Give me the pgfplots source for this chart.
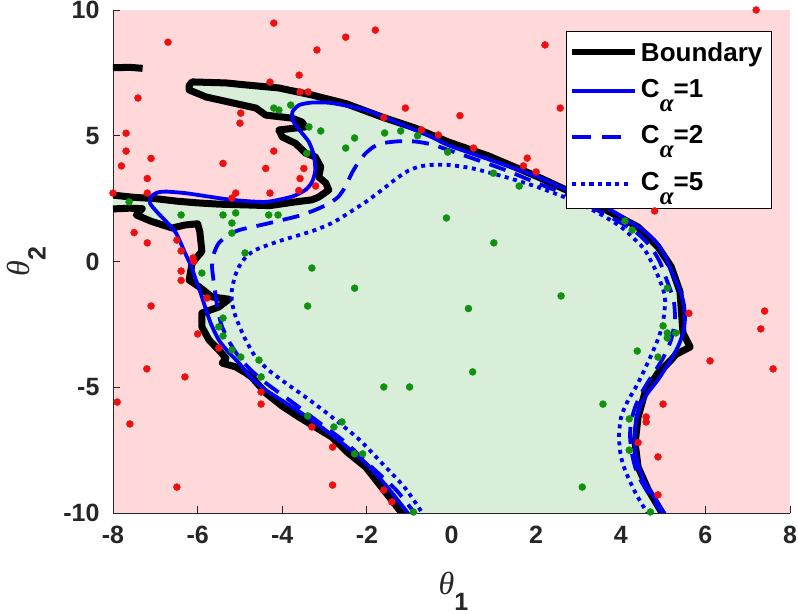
\documentclass[border=0pt]{standalone}
\usepackage{pgfplots}
\pgfplotsset{compat=1.18}
\usepackage{fontspec}
\setmainfont{Liberation Sans}
\newfontfamily\tms{Liberation Serif}
\definecolor{pinkbg}{RGB}{255,217,217}
\definecolor{greenbg}{RGB}{216,238,216}
\definecolor{reddot}{RGB}{238,16,16}
\definecolor{greendot}{RGB}{16,145,16}
\definecolor{axgray}{RGB}{38,38,38}
\definecolor{cblue}{RGB}{0,0,245}
\newcommand{\Ca}[1]{C\lower14pt\hbox{\fontsize{25}{25}\selectfont\tms\itshape α}=#1}
\newcommand{\dotseg}{\rule[4.75pt]{4.5pt}{3.5pt}\hspace{4.1pt}}
\begin{document}
\begin{tikzpicture}
\begin{axis}[
 scale only axis, width=677pt, height=503pt,
 xmin=-8, xmax=8, ymin=-10, ymax=10,
 axis background/.style={fill=pinkbg},
 axis x line*=bottom, axis y line*=left,
 axis line style={axgray, line width=0.8pt, -},
 tick align=inside, major tick length=7pt,
 tick style={axgray, line width=0.8pt},
 xtick={-8,-6,-4,-2,0,2,4,6,8}, xticklabels={-8,-6,-4,-2,0,2,4,6,8},
 ytick={-10,-5,0,5,10}, yticklabels={-10,-5,0,5,10},
 ticklabel style={font=\fontsize{25}{25}\selectfont\bfseries, text=axgray},
 xticklabel style={yshift=-10pt}, yticklabel style={xshift=-10pt},
 xlabel={{\fontsize{32}{32}\selectfont\tms\itshape θ}\lower16pt\hbox{\fontsize{25}{25}\selectfont\bfseries 1}},
 ylabel={{\fontsize{32}{32}\selectfont\tms\itshape θ}\lower16pt\hbox{\fontsize{25}{25}\selectfont\bfseries 2}},
 xlabel style={at={(axis description cs:0.503,-0.155)}, anchor=center, text=axgray},
 ylabel style={at={(axis description cs:-0.128,0.5)}, anchor=center, text=axgray},
 clip=true,
]
% green region
\addplot[fill=greenbg, draw=none] coordinates {
(-8,2.64) (-7.5,2.55) (-7.0,2.5) (-6.5,2.4) (-6.0,2.33) (-5.5,2.28) (-4.86,2.25) (-4.3,2.22) (-3.69,2.37) (-3.3,2.45) (-3.14,2.56) (-2.9,2.84) (-2.97,3.12) (-3.14,3.36) (-3.09,3.76) (-3.22,4.16) (-3.45,4.31) (-3.69,4.7) (-4.0,4.95) (-4.08,5.23) (-3.45,5.35) (-3.54,5.55) (-3.77,5.7) (-4.39,5.82) (-4.62,6.1) (-5.26,6.34) (-5.8,6.54) (-6.2,6.82) (-6.2,7.0) (-6.13,7.14) (-5.33,7.1) (-4.86,7.02) (-4.08,6.9) (-3.3,6.62) (-2.5,6.28) (-1.65,5.75) (-0.85,5.3) (-0.07,4.75) (0.87,4.2) (2.05,3.36) (2.83,2.75) (3.63,2.07) (4.41,1.37) (4.88,0.58) (5.19,-0.2) (5.4,-1.2) (5.47,-2.84) (5.64,-3.4) (5.3,-3.7) (5.19,-3.92) (4.88,-4.43) (4.57,-5.23) (4.41,-6.18) (4.34,-7.22) (4.41,-8.17) (4.65,-9.08) (5.05,-10)
(-1.08,-10) (-1.5,-9.3) (-2.03,-8.17) (-2.45,-7.6) (-2.83,-6.98) (-3.2,-6.6) (-3.61,-6.18) (-4.0,-5.75) (-4.39,-5.23) (-4.72,-4.6) (-4.86,-4.43) (-5.1,-4.19) (-5.42,-4.04) (-5.33,-3.85) (-5.5,-3.52) (-5.73,-3.12) (-5.9,-2.6) (-5.9,-2.05) (-5.5,-1.81) (-5.26,-1.5) (-5.66,-1.41) (-5.97,-1.0) (-6.2,-0.74) (-6.13,-0.06) (-5.9,0.4) (-5.92,0.74) (-5.95,1.2) (-6.0,1.5) (-6.3,1.45) (-6.6,1.33) (-7.1,1.6) (-7.45,1.85) (-7.31,2.1) (-7.6,2.12) (-8,2.09)
} -- cycle;
% boundary
\addplot[black, line width=7pt, line join=round] coordinates {
(-8,2.64) (-7.5,2.55) (-7.0,2.5) (-6.5,2.4) (-6.0,2.33) (-5.5,2.28) (-4.86,2.25) (-4.3,2.22) (-3.69,2.37) (-3.3,2.45) (-3.14,2.56) (-2.9,2.84) (-2.97,3.12) (-3.14,3.36) (-3.09,3.76) (-3.22,4.16) (-3.45,4.31) (-3.69,4.7) (-4.0,4.95) (-4.08,5.23) (-3.45,5.35) (-3.54,5.55) (-3.77,5.7) (-4.39,5.82) (-4.62,6.1) (-5.26,6.34) (-5.8,6.54) (-6.2,6.82) (-6.2,7.0) (-6.13,7.14) (-5.33,7.1) (-4.86,7.02) (-4.08,6.9) (-3.3,6.62) (-2.5,6.28) (-1.65,5.75) (-0.85,5.3) (-0.07,4.75) (0.87,4.2) (2.05,3.36) (2.83,2.75) (3.63,2.07) (4.41,1.37) (4.88,0.58) (5.19,-0.2) (5.4,-1.2) (5.47,-2.84) (5.64,-3.4) (5.3,-3.7) (5.19,-3.92) (4.88,-4.43) (4.57,-5.23) (4.41,-6.18) (4.34,-7.22) (4.41,-8.17) (4.65,-9.08) (5.05,-10.2)
};
\addplot[black, line width=7pt, line join=round] coordinates {
(-1.08,-10.2) (-1.5,-9.3) (-2.03,-8.17) (-2.45,-7.6) (-2.83,-6.98) (-3.2,-6.6) (-3.61,-6.18) (-4.0,-5.75) (-4.39,-5.23) (-4.72,-4.6) (-4.86,-4.43) (-5.1,-4.19) (-5.42,-4.04) (-5.33,-3.85) (-5.5,-3.52) (-5.73,-3.12) (-5.9,-2.6) (-5.9,-2.05) (-5.5,-1.81) (-5.26,-1.5) (-5.66,-1.41) (-5.97,-1.0) (-6.2,-0.74) (-6.13,-0.06) (-5.9,0.4) (-5.92,0.74) (-5.95,1.2) (-6.0,1.5) (-6.3,1.45) (-6.6,1.33) (-7.1,1.6) (-7.45,1.85) (-7.31,2.1) (-7.6,2.12) (-8,2.09)
};
\addplot[black, line width=7pt] coordinates {(-8.1,7.7) (-7.6,7.72) (-7.3,7.68)};
% red points
\addplot[only marks, mark=*, mark size=3.5pt, color=reddot] coordinates {
(-4.2,9.48) (-2.5,8.92) (-1.8,9.2) (-6.7,8.72) (-3.18,8.41) (-3.6,7.41) (-4.29,7.13) (-7.41,6.5) (-3.58,6.74) (-3.39,6.74) (-1.09,6.1) (-4.98,5.9) (-5.0,5.5) (-7.69,5.1) (-7.69,4.39) (-4.2,4.39) (-7.1,4.1) (-7.8,3.8) (-5.4,3.9) (-4.39,3.7) (-3.49,3.7) (-7.19,3.3) (-3.58,3.3) (-3.61,2.82) (-3.21,3.0) (-5.1,2.72) (-5.19,2.52) (-4.29,2.72) (-7.19,2.72) (-8.0,2.72) (-7.5,1.15) (-7.19,0.74) (-6.49,0.85) (-1.6,5.72) (-0.71,5.23) (-0.31,5.03) (7.2,10) (2.21,8.61) (0.2,5.8) (2.57,6.1) (0.52,4.51) (1.79,4.11) (1.7,3.8) (2.0,3.56) (4.8,2.01) (7.4,-1.97) (7.31,-2.68) (6.11,-3.95) (7.6,-4.27) (5.61,-2.06) (5.0,-5.67) (4.6,-6.18) (4.6,-6.38) (4.41,-7.2) (4.88,-7.77) (4.88,-9.28) (-6.39,0.42) (-6.11,0.14) (-6.09,0.0) (-6.39,-0.38) (-6.39,-0.75) (-7.1,-1.77) (-5.78,-1.45) (-6.0,-2.88) (-5.5,-3.44) (-7.2,-4.27) (-6.3,-4.59) (-7.9,-5.59) (-4.5,-5.19) (-4.5,-5.67) (-7.6,-6.46) (-2.81,-7.38) (-3.3,-6.58) (-6.49,-8.97) (-2.81,-8.89) (-1.6,-9.09) (-1.41,-9.56)
};
% green points
\addplot[only marks, mark=*, mark size=3.5pt, color=greendot] coordinates {
(-4.2,6.1) (-4.08,6.02) (-3.8,6.22) (-3.37,5.35) (-3.09,5.19) (-2.29,4.91) (-2.5,4.51) (-1.58,5.11) (-1.2,5.19) (-0.8,5.0) (-3.42,4.3) (-0.12,1.73) (-6.39,1.85) (-5.4,1.85) (-5.1,1.93) (-5.19,1.53) (-5.19,1.13) (-4.32,1.85) (-4.1,1.85) (-4.88,0.34) (-3.3,-0.26) (-7.62,2.37) (-0.09,4.35) (0.99,3.51) (1.6,3.0) (1.0,0.74) (4.1,1.61) (4.27,1.25) (0.4,-1.87) (2.59,-1.37) (0.5,-4.39) (4.39,-3.56) (3.58,-5.67) (3.09,-8.97) (5.1,-1.06) (5.0,-2.56) (5.1,-2.84) (5.3,-2.84) (5.1,-3.04) (4.88,-3.8) (4.2,-6.26) (4.2,-7.5) (4.7,-9.96) (-2.29,-1.06) (-3.4,-1.77) (-5.9,-0.46) (-5.4,-2.25) (-5.5,-2.6) (-5.4,-2.96) (-5.19,-3.52) (-4.98,-3.8) (-4.55,-3.92) (-4.5,-4.59) (-1.6,-4.99) (-0.99,-4.99) (-2.59,-6.38) (-2.78,-6.58) (-3.4,-6.14) (-2.29,-7.65) (-2.1,-7.65) (-0.9,-9.96)
};
% C = 1
\addplot[cblue, line width=3.8pt, smooth, tension=0.4] coordinates {
(-0.94,-10.2) (-1.5,-9.0) (-2.03,-8.01) (-2.6,-7.2) (-3.21,-6.42) (-3.8,-5.75) (-4.39,-5.11) (-4.75,-4.6) (-5.02,-4.04) (-5.3,-3.55) (-5.5,-3.12) (-5.68,-2.5) (-5.8,-1.93) (-5.92,-1.3) (-6.04,-0.74) (-6.15,-0.2) (-6.3,0.35) (-6.51,1.13) (-6.75,1.6) (-6.95,1.95) (-7.12,2.3) (-7.1,2.58) (-6.95,2.74) (-6.75,2.78) (-6.3,2.72) (-5.97,2.64) (-5.19,2.45) (-4.39,2.37) (-3.77,2.58) (-3.45,2.85) (-3.3,3.15) (-3.22,3.6) (-3.25,4.2) (-3.37,4.75) (-3.58,5.2) (-3.74,5.58) (-3.76,5.95) (-3.6,6.22) (-3.3,6.32) (-2.83,6.3) (-2.03,6.02) (-1.25,5.5) (-0.47,4.95) (-0.07,4.62) (0.9,4.05) (2.05,3.36) (2.85,2.75) (3.63,2.17) (4.2,1.6) (4.57,1.2) (4.85,0.75) (5.05,0.2) (5.2,-0.4) (5.35,-0.95) (5.48,-1.6) (5.52,-2.2) (5.48,-2.8) (5.35,-3.4) (5.15,-4.0) (4.88,-4.7) (4.65,-5.2) (4.49,-5.63) (4.38,-6.2) (4.34,-6.7) (4.33,-7.2) (4.37,-7.77) (4.45,-8.3) (4.57,-8.8) (4.8,-9.4) (5.1,-10.2)
};
% C = 2
\addplot[cblue, line width=3.8pt, dash pattern=on 17pt off 10pt, smooth, tension=0.4] coordinates {
(-0.78,-10.2) (-1.3,-9.1) (-1.89,-8.17) (-2.5,-7.2) (-3.21,-6.3) (-3.8,-5.55) (-4.39,-4.83) (-4.75,-4.3) (-5.02,-3.8) (-5.25,-3.2) (-5.42,-2.6) (-5.52,-2.0) (-5.57,-1.41) (-5.62,-0.8) (-5.66,-0.2) (-5.62,0.3) (-5.5,0.73) (-5.3,1.02) (-5.02,1.25) (-4.5,1.45) (-4.0,1.65) (-3.6,1.82) (-3.22,2.05) (-2.9,2.3) (-2.67,2.58) (-2.5,3.0) (-2.36,3.5) (-2.2,3.95) (-2.03,4.3) (-1.85,4.55) (-1.65,4.7) (-1.25,4.78) (-0.85,4.77) (-0.45,4.65) (-0.07,4.43) (0.5,4.1) (1.27,3.64) (2.05,3.1) (2.83,2.58) (3.6,1.9) (4.1,1.45) (4.41,1.1) (4.7,0.6) (4.92,0.0) (5.1,-0.8) (5.25,-1.53) (5.28,-2.3) (5.19,-3.12) (4.98,-3.9) (4.72,-4.59) (4.5,-5.2) (4.34,-5.79) (4.24,-6.4) (4.22,-6.98) (4.26,-7.6) (4.34,-8.17) (4.47,-8.7) (4.65,-9.2) (5.05,-10.2)
};
% C = 5
\addplot[cblue, line width=3.8pt, dash pattern=on 4pt off 4.5pt, smooth, tension=0.4] coordinates {
(-0.61,-10.2) (-1.1,-9.0) (-1.65,-8.01) (-2.2,-7.05) (-2.83,-6.18) (-3.4,-5.45) (-3.92,-4.83) (-4.3,-4.35) (-4.63,-3.8) (-4.9,-3.0) (-5.1,-2.2) (-5.19,-1.6) (-5.19,-1.13) (-5.12,-0.6) (-5.02,-0.2) (-4.85,0.2) (-4.63,0.46) (-4.3,0.68) (-4.0,0.85) (-3.6,1.05) (-3.22,1.25) (-2.8,1.55) (-2.43,1.93) (-2.0,2.4) (-1.65,2.84) (-1.3,3.3) (-1.01,3.62) (-0.75,3.78) (-0.47,3.84) (-0.07,3.84) (0.5,3.7) (1.27,3.36) (2.05,2.95) (2.83,2.45) (3.5,1.9) (4.01,1.37) (4.35,0.85) (4.57,0.46) (4.81,-0.3) (5.0,-1.1) (5.05,-1.6) (5.0,-2.4) (4.9,-3.0) (4.7,-3.8) (4.41,-4.83) (4.15,-5.6) (4.01,-6.18) (3.96,-6.85) (3.98,-7.5) (4.05,-8.05) (4.17,-8.57) (4.38,-9.3) (4.7,-10.2)
};
% legend
\node[draw=black, line width=0.8pt, fill=white, inner sep=0pt, anchor=north east] at (rel axis cs:0.973,0.958) {%
\renewcommand{\arraystretch}{0}\setlength{\tabcolsep}{0pt}\fontsize{26}{26}\selectfont\bfseries
\begin{tabular}{@{\hspace{6pt}}l@{\hspace{6pt}}l@{\hspace{9pt}}}
\rule[-12pt]{0pt}{42pt}\textcolor{black}{\rule[7pt]{63pt}{6pt}} & Boundary \\
\rule[-22pt]{0pt}{46pt}\textcolor{cblue}{\rule[4.75pt]{63pt}{3.5pt}} & \Ca{1} \\
\rule[-23pt]{0pt}{47pt}\textcolor{cblue}{\rule[4.75pt]{19pt}{3.5pt}\hspace{11pt}\rule[4.75pt]{19pt}{3.5pt}\hspace{14pt}} & \Ca{2} \\
\rule[-18pt]{0pt}{42pt}\textcolor{cblue}{\dotseg\dotseg\dotseg\dotseg\dotseg\dotseg\dotseg\hspace{2.8pt}} & \Ca{5} \\
\end{tabular}};
\end{axis}
\pgfresetboundingbox
\path[use as bounding box] (-113pt,-102pt) rectangle (685pt,513pt);
\end{tikzpicture}
\end{document}
